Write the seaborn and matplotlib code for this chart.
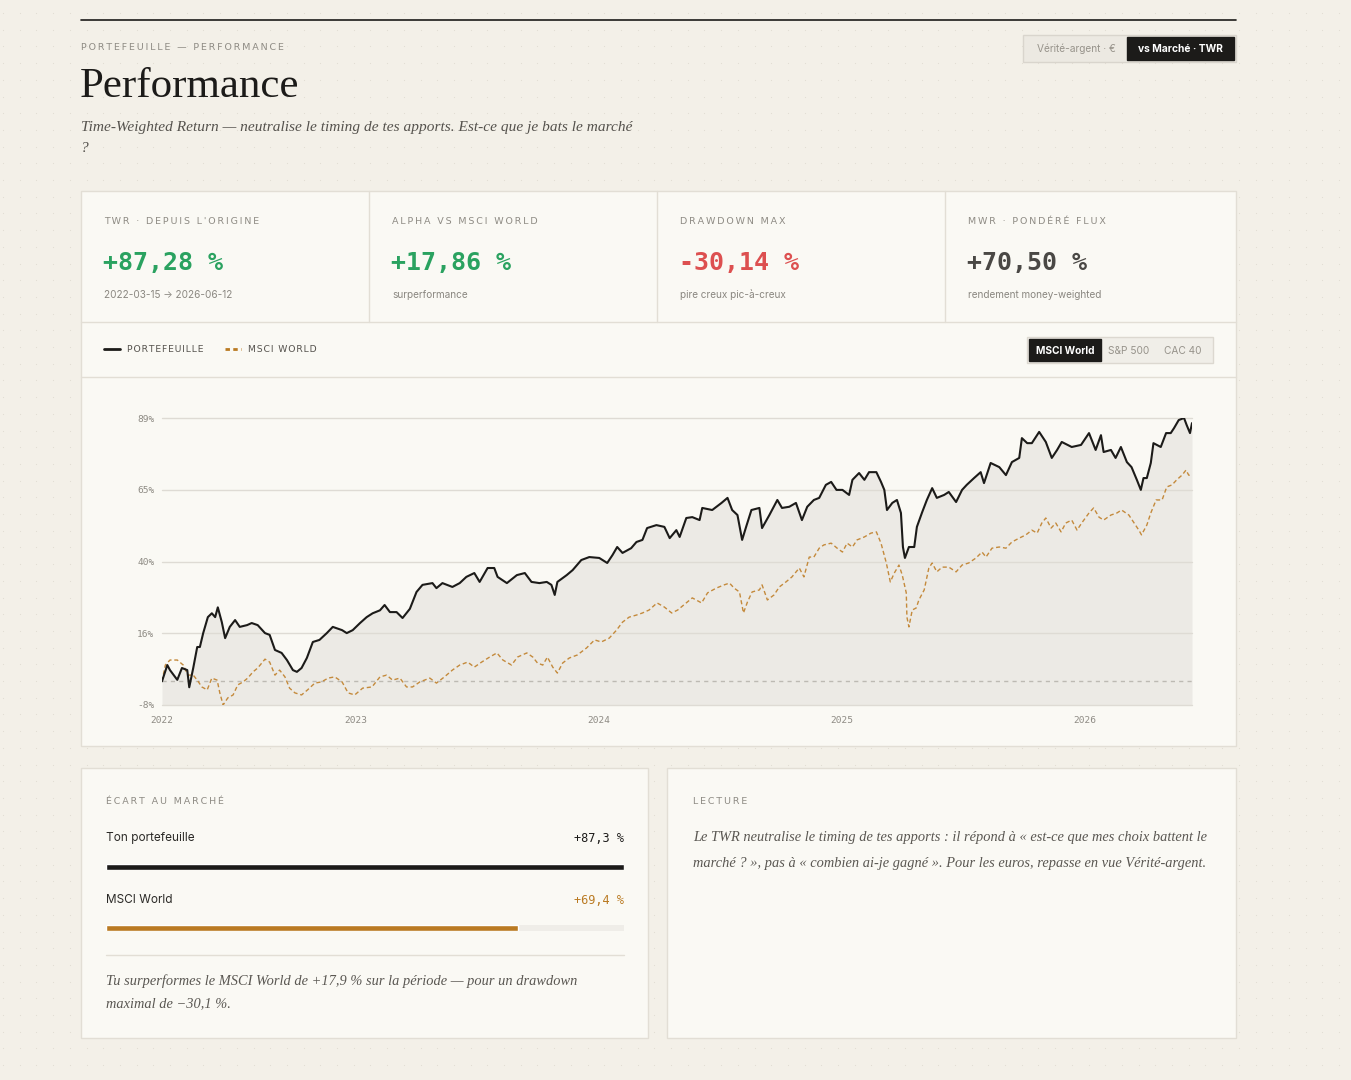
import numpy as np
import pandas as pd
import matplotlib
matplotlib.use("Agg")
import matplotlib.pyplot as plt
from matplotlib.patches import Rectangle
import seaborn as sns

# TWR cumulé (%); jours depuis la date de départ
start_date = "2022-03-15"
end_date = "2026-06-12"

port_days = [0, 8, 12, 23, 30, 38, 41, 47, 53, 57,
             62, 69, 75, 80, 84, 90, 95, 102, 110, 117,
             128, 135, 144, 155, 162, 170, 180, 188, 197, 203,
             210, 218, 227, 237, 248, 257, 271, 278, 287, 298,
             308, 317, 328, 335, 343, 353, 362, 373, 383, 392,
             407, 413, 422, 437, 448, 458, 470, 478, 490, 500,
             505, 519, 534, 546, 556, 568, 579, 586, 591, 595,
             609, 618, 631, 643, 658, 670, 678, 685, 693, 706,
             714, 723, 730, 744, 756, 764, 774, 779, 789, 798,
             809, 813, 828, 842, 851, 858, 866, 873, 879, 887,
             899, 903, 914, 926, 933, 944, 954, 963, 971, 981,
             989, 999, 1007, 1015, 1024, 1034, 1039, 1049, 1057, 1064,
             1075, 1082, 1087, 1091, 1099, 1106, 1112, 1115, 1118, 1124,
             1132, 1136, 1144, 1151, 1159, 1166, 1177, 1184, 1195, 1204,
             1211, 1222, 1232, 1237, 1247, 1260, 1270, 1279, 1290, 1294,
             1302, 1309, 1320, 1330, 1339, 1347, 1354, 1369, 1383, 1395,
             1405, 1413, 1417, 1428, 1435, 1443, 1452, 1459, 1467, 1473,
             1477, 1482, 1488, 1492, 1503, 1511, 1518, 1523, 1530, 1538,
             1542, 1547, 1550]
port_twr = [0, 5.5, 3.8, 0.5, 4.5, 3.8, -2, 4.5, 11.6, 11.6,
            16.3, 21.7, 23, 21.7, 25, 20, 14.6, 18.4, 20.7, 18.4,
            19, 19.7, 19, 16.3, 15.7, 10.6, 9.6, 7.2, 3.8, 3.2,
            4.5, 7.9, 13.3, 14, 16.3, 18.4, 17.3, 16.3, 17.3, 19.7,
            21.7, 23, 24, 25.8, 23.4, 23.4, 21.4, 24.5, 30.2, 32.6,
            33.2, 31.5, 33.2, 31.9, 33.2, 35.3, 36.6, 33.6, 38.3, 38.3,
            35.3, 33.2, 35.9, 36.6, 33.6, 33.2, 33.6, 32.6, 29.2, 33.6,
            35.9, 37.6, 41, 42, 41.7, 40, 42.7, 45.4, 43.4, 45,
            47.1, 47.8, 51.8, 52.8, 52.2, 48.4, 51.1, 48.8, 55.2, 55.5,
            54.5, 58.6, 57.9, 60.3, 62, 57.9, 56.2, 47.8, 52.2, 57.9,
            58.6, 51.8, 56.2, 61.3, 58.6, 59, 60.3, 54.5, 59, 61.3,
            62, 66.4, 67.4, 64.7, 64.7, 63, 68.1, 70.4, 68.1, 70.7,
            70.7, 67.4, 64.7, 57.9, 60.3, 61.3, 56.9, 45.4, 41.7, 45.4,
            45.4, 52.2, 57.2, 61.3, 65.3, 62, 63, 64, 60.6, 64.7,
            66.4, 68.7, 70.7, 67, 73.8, 72.4, 69.7, 74.1, 75.5, 82.2,
            80.5, 80.5, 84.3, 80.9, 75.5, 78.2, 80.9, 79.2, 79.9, 83.9,
            78.2, 83.2, 77.5, 78.2, 75.5, 79.2, 74.1, 72.4, 68.1, 64.7,
            68.7, 68.7, 73.8, 80.5, 79.2, 83.9, 83.9, 85.6, 88.3, 89,
            86.6, 83.9, 87.28]

msci_days = [0, 5, 12, 23, 32, 39, 47, 53, 60, 68,
             75, 83, 87, 92, 99, 107, 114, 122, 129, 137,
             144, 155, 162, 170, 177, 185, 192, 200, 210, 219,
             230, 240, 250, 260, 271, 280, 290, 302, 316, 328,
             338, 347, 358, 368, 377, 388, 403, 413, 425, 437,
             448, 460, 470, 481, 493, 504, 513, 526, 535, 549,
             558, 565, 573, 580, 588, 595, 603, 613, 625, 639,
             651, 661, 673, 684, 693, 703, 714, 723, 733, 745,
             756, 767, 776, 789, 798, 812, 821, 834, 846, 854,
             861, 869, 875, 881, 888, 899, 903, 911, 921, 929,
             939, 948, 959, 966, 974, 981, 989, 996, 1007, 1016,
             1024, 1031, 1039, 1046, 1057, 1067, 1075, 1082, 1090, 1096,
             1102, 1109, 1114, 1120, 1121, 1124, 1129, 1135, 1139, 1147,
             1154, 1159, 1166, 1174, 1184, 1195, 1204, 1214, 1225, 1234,
             1240, 1249, 1260, 1270, 1279, 1290, 1300, 1309, 1317, 1324,
             1330, 1338, 1345, 1353, 1360, 1369, 1377, 1384, 1395, 1402,
             1410, 1417, 1428, 1437, 1444, 1455, 1462, 1470, 1474, 1482,
             1488, 1496, 1505, 1512, 1520, 1527, 1535, 1541, 1545, 1550]
msci_twr = [0, 5.5, 7.2, 7.2, 5.5, 2.1, 2.1, 0.4, -1.9, -2.9,
            1.1, 0.4, -3.9, -8, -5.6, -4.6, -1.2, -0.2, 1.1, 3.2,
            4.5, 7.5, 6.5, 2.1, 3.8, 1.5, -2.3, -3.9, -4.6, -2.9,
            -0.6, -0.2, 1.1, 1.5, -0.2, -3.9, -4.6, -2.3, -1.9, 1.5,
            2.1, 0.4, 1.1, -1.9, -1.9, -0.2, 1.1, -0.6, 1.5, 3.8,
            5.5, 6.5, 4.8, 6.5, 8.2, 9.6, 7.2, 5.5, 8.2, 9.6,
            8.2, 6.2, 5.5, 8.2, 4.8, 2.8, 6.2, 7.9, 8.9, 11.3,
            14, 13.3, 14.6, 17.3, 20, 21.7, 22.4, 23.1, 24.1, 26.5,
            25.1, 23.1, 24.1, 26.5, 28.2, 26.5, 29.9, 31.5, 32.6, 33.2,
            31.5, 30.2, 23.1, 26.8, 30.2, 30.9, 32.6, 27.5, 29.2, 31.9,
            33.6, 35.3, 38.3, 35.3, 42, 42, 45, 46.1, 46.7, 45,
            43.7, 46.7, 45.4, 47.8, 48.8, 50.1, 50.5, 46.7, 40, 33.6,
            36.6, 39.3, 35.9, 29.9, 21.7, 18.4, 24.1, 24.8, 27.5, 30.9,
            38.3, 40, 37, 38.6, 38.6, 37, 39.3, 40, 41.7, 43.7,
            42, 45, 45.4, 45, 47.1, 48.4, 49.5, 51.1, 50.1, 53.5,
            55.2, 51.8, 53.5, 50.5, 53.5, 54.5, 51.1, 53.5, 56.9, 58.6,
            55.5, 54.5, 56.2, 56.9, 57.9, 56.2, 53.8, 51.1, 49.5, 52.8,
            56.9, 61.3, 61.3, 65.7, 66.4, 68.1, 69.7, 71.4, 69.7, 69.4]

y_ticks = [-8, 16.25, 40.5, 64.75, 89]
y_tick_labels = ["-8%", "16%", "40%", "65%", "89%"]
x_tick_dates = ["2022-03-15", "2023-01-01", "2024-01-01", "2025-01-01", "2026-01-01"]
x_tick_labels = ["2022", "2023", "2024", "2025", "2026"]

kpi_labels = ["TWR · DEPUIS L'ORIGINE", "ALPHA VS MSCI WORLD", "DRAWDOWN MAX", "MWR · PONDÉRÉ FLUX"]
kpi_values = ["+87,28 %", "+17,86 %", "-30,14 %", "+70,50 %"]
kpi_notes = ["2022-03-15 → 2026-06-12", "surperformance", "pire creux pic-à-creux", "rendement money-weighted"]

gap_names = ["Ton portefeuille", "MSCI World"]
gap_values = [87.3, 69.4]
gap_labels = ["+87,3 %", "+69,4 %"]

views = ["Vérité-argent · €", "vs Marché · TWR"]
benchmarks = ["MSCI World", "S&P 500", "CAC 40"]

# couleurs
PAGE = "#F3F0E8"
CARD = "#FAF9F4"
BORDER = "#E2DED5"
FILL = "#ECEAE5"
GRID = "#DEDBD4"
INK = "#1C1B19"
MUTED = "#8E8B84"
ORANGE = "#BA7A22"
ORANGE_LINE = "#C48A3C"
GREEN = "#2AA260"
RED = "#DD5050"
kpi_colors = [GREEN, GREEN, RED, "#4A4845"]

W, H = 1351, 1080
sns.set_theme(style="white")
plt.rcParams["font.family"] = ["DejaVu Sans"]

fig = plt.figure(figsize=(W / 100, H / 100), dpi=100, facecolor=PAGE)
bg = fig.add_axes([0, 0, 1, 1])
bg.set_xlim(0, W)
bg.set_ylim(H, 0)
bg.axis("off")


def px_axes(x0, y0, x1, y1):
    return fig.add_axes([x0 / W, 1 - y1 / H, (x1 - x0) / W, (y1 - y0) / H])


def box(x0, y0, x1, y1, fc=CARD, ec=BORDER, z=1):
    bg.add_patch(Rectangle((x0, y0), x1 - x0, y1 - y0, facecolor=fc,
                           edgecolor=ec, lw=1, zorder=z))


def kicker(x, y, s, color=MUTED, size=6.8, gap="\u2009"):
    # petites capitales espacées
    bg.text(x, y, gap.join(s), fontsize=size, color=color,
            family="DejaVu Sans", va="center", ha="left", zorder=4)


def serif(x, y, s, size=10.4, color="#5A5752"):
    bg.text(x, y, s, fontsize=size, family="Liberation Serif", style="italic",
            color=color, va="center", zorder=4)


# fond pointillé
gx, gy = np.meshgrid(np.arange(3, W, 16.7), np.arange(13, H, 16.7))
bg.scatter(gx.ravel(), gy.ravel(), s=0.6, color="#E0DCD2", lw=0, zorder=0)

# en-tête
bg.plot([81, 1236], [20, 20], color=INK, lw=1.2, zorder=2)
kicker(81, 47, "PORTEFEUILLE — PERFORMANCE")
bg.text(80, 97, "Performance", fontsize=31, family="Liberation Serif",
        color=INK, va="baseline", zorder=4)
serif(81, 127, "Time-Weighted Return — neutralise le timing de tes apports. Est-ce que je bats le marché",
      size=11.1, color="#55524D")
serif(81, 149, "?", size=11.1, color="#55524D")

box(1023, 35, 1236, 62, fc="#ECE9E2", ec="#D9D5CD")
box(1127, 37, 1234, 60, fc=INK, ec=INK, z=2)
bg.text(1076, 48.5, views[0], fontsize=7.3, family="Inter", color="#97938B",
        ha="center", va="center", zorder=4)
bg.text(1180, 48.5, views[1], fontsize=7.4, family="Inter", weight="bold",
        color="white", ha="center", va="center", zorder=4)

# carte principale : KPI + graphique
box(81, 191, 1236, 746)
bg.plot([81, 1236], [322, 322], color=BORDER, lw=1, zorder=2)
bg.plot([81, 1236], [377, 377], color=BORDER, lw=1, zorder=2)
for i, x0 in enumerate([81, 369, 657, 945]):
    if i > 0:
        bg.plot([x0, x0], [191, 322], color=BORDER, lw=1, zorder=2)
    kicker(x0 + 23, 222, kpi_labels[i])
    bg.text(x0 + 22, 270, kpi_values[i], fontsize=18, family="DejaVu Sans Mono",
            weight="bold", color=kpi_colors[i], va="baseline", zorder=4)
    bg.text(x0 + 23, 295, kpi_notes[i], fontsize=7.2, family="Inter",
            color="#8A8780", va="center", zorder=4)

# légende
bg.plot([104, 120], [349, 349], color=INK, lw=2, zorder=3)
kicker(127, 349.5, "PORTEFEUILLE", color="#55524D", size=6.7, gap="\u200a")
bg.plot([225, 241], [349, 349], color=ORANGE, lw=2, ls=(0, (1.6, 1.2)), zorder=3)
kicker(248, 349.5, "MSCI WORLD", color="#55524D", size=6.7, gap="\u200a")

box(1027, 337, 1213, 363, fc="#F0EEE8", ec="#DCD8D0")
box(1029, 339, 1101, 361, fc=INK, ec=INK, z=2)
for name, cx in zip(benchmarks, [1065, 1129, 1183]):
    bg.text(cx, 350.5, name, fontsize=7.3, family="Inter",
            weight="bold" if name == "MSCI World" else "normal",
            color="white" if name == "MSCI World" else "#97938B",
            ha="center", va="center", zorder=4)

# graphique
start = pd.Timestamp(start_date)
df_p = pd.DataFrame({"date": start + pd.to_timedelta(port_days, unit="D"), "twr": port_twr})
df_m = pd.DataFrame({"date": start + pd.to_timedelta(msci_days, unit="D"), "twr": msci_twr})

ax = px_axes(162, 418, 1192, 705)
ax.patch.set_alpha(0)
ax.fill_between(df_p["date"], y_ticks[0], df_p["twr"], color=FILL, lw=0, zorder=1)
for t in y_ticks:
    ax.axhline(t, color=GRID, lw=1, zorder=2, clip_on=False)
ax.axhline(0, color="#BDBAB3", lw=1, ls=(0, (3, 3)), zorder=2)
sns.lineplot(data=df_m, x="date", y="twr", ax=ax, color=ORANGE_LINE, lw=1.0,
             linestyle=(0, (3, 2)), zorder=3)
sns.lineplot(data=df_p, x="date", y="twr", ax=ax, color=INK, lw=1.5, zorder=4)
ax.set_xlim(start, pd.Timestamp(end_date))
ax.set_ylim(y_ticks[0], y_ticks[-1])
ax.set_xticks(pd.to_datetime(x_tick_dates), x_tick_labels)
ax.set_yticks(y_ticks, y_tick_labels)
ax.set_xlabel("")
ax.set_ylabel("")
ax.tick_params(length=0, labelsize=6.8, labelcolor=MUTED)
ax.tick_params(axis="y", pad=5.5)
ax.tick_params(axis="x", pad=8)
for lbl in ax.get_xticklabels() + ax.get_yticklabels():
    lbl.set_family("DejaVu Sans Mono")
sns.despine(ax=ax, left=True, bottom=True)
ax.grid(False)

# carte écart au marché
box(81, 768, 648, 1038)
kicker(106, 802, "ÉCART AU MARCHÉ")
row_y = [838, 900]
bar_y = [864, 925]
val_colors = [INK, ORANGE]
for i in range(2):
    bg.text(106, row_y[i], gap_names[i], fontsize=8.5, family="Inter",
            color="#2B2A27", va="center", zorder=4)
    bg.text(624, row_y[i], gap_labels[i], fontsize=8.6, family="DejaVu Sans Mono",
            color=val_colors[i], ha="right", va="center", zorder=4)
    bax = px_axes(106, bar_y[i], 624, bar_y[i] + 6)
    bax.barh([0], [max(gap_values)], height=1, color="#EFEDE8", lw=0)
    sns.barplot(x=[gap_values[i]], y=[gap_names[i]], ax=bax, color=val_colors[i],
                width=1, saturation=1, orient="h")
    bax.set_xlim(0, max(gap_values))
    bax.set_ylim(0.5, -0.5)
    bax.axis("off")
bg.plot([106, 624], [955, 955], color=BORDER, lw=1, zorder=2)
serif(106, 981, "Tu surperformes le MSCI World de +17,9 % sur la période — pour un drawdown")
serif(106, 1004, "maximal de −30,1 %.")

# carte lecture
box(667, 768, 1236, 1038)
kicker(693, 802, "LECTURE")
serif(693, 838, "Le TWR neutralise le timing de tes apports : il répond à « est-ce que mes choix battent le")
serif(693, 863, "marché ? », pas à « combien ai-je gagné ». Pour les euros, repasse en vue Vérité-argent.")

fig.savefig("out.png", dpi=100, facecolor=PAGE)
